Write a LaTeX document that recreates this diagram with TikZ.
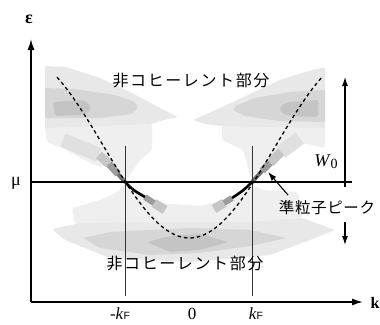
\documentclass[tikz,border=0pt]{standalone}
\usepackage{fontspec}
\setmainfont{Liberation Serif}
\newfontfamily\jpfont[LetterSpace=10]{Noto Sans CJK JP}
\newfontfamily\jpfonttight[LetterSpace=4]{Noto Sans CJK JP}
\newfontfamily\sansF{Liberation Sans}
\usetikzlibrary{arrows.meta}
\definecolor{gOut}{HTML}{E8E8E8}
\definecolor{gLow}{HTML}{EFEFEF}
\definecolor{gMid}{HTML}{D6D6D6}
\definecolor{gDark}{HTML}{C4C4C4}
\definecolor{gBand}{HTML}{E0E0E0}
\definecolor{gQa}{HTML}{C6C6C6}
\definecolor{gQb}{HTML}{9C9C9C}
\definecolor{gQc}{HTML}{6E6E6E}
\tikzset{
  blob/.style={rounded corners=2pt, draw=none},
  axisline/.style={line width=1.5pt, -{Latex[length=11pt,width=7pt]}},
  guide/.style={line width=0.9pt, draw=black!80},
  dashcurve/.style={line width=1.3pt, dash pattern=on 3.5pt off 3pt},
  qp/.style={line cap=butt},
  lbl/.style={font=\fontsize{18}{18}\selectfont, inner sep=0pt},
  klbl/.style={font=\fontsize{17}{17}\selectfont, inner sep=0pt},
  jp/.style={font=\jpfont\fontsize{16}{16}\selectfont, inner sep=0pt},
  jpt/.style={font=\jpfonttight\fontsize{15.5}{15.5}\selectfont, inner sep=0pt},
  wtip/.style={line width=1.1pt, -{Latex[length=9pt,width=6pt]}}
}
\begin{document}
\begin{tikzpicture}[x=1pt,y=-1pt]
\useasboundingbox (0,0) rectangle (380,324);
% ---- top-left blob
\fill[gOut,blob] (45,66) -- (66,67) -- (100,78) -- (130,92) -- (160,108) -- (178,117) -- (160,121) -- (152,124) -- (120,126) -- (45,130) -- cycle;
\fill[gLow,blob] (45,128) -- (152,124) -- (152,150) -- (140,160) -- (128,178) -- (125,182) -- (112,166) -- (96,166) -- (62,148) -- (47,142) -- cycle;
\fill[gMid,blob] (45,88) -- (75,89) -- (115,95) -- (135,102) -- (138,108) -- (132,114) -- (100,118) -- (45,118) -- cycle;
\fill[gDark,blob] (53,102) -- (82,100) -- (90,104) -- (90,112) -- (80,115) -- (55,116) -- cycle;
% ---- top-right blob
\fill[gOut,blob] (325,67) -- (305,72) -- (280,80) -- (250,94) -- (220,108) -- (193,120) -- (205,124) -- (230,127) -- (325,130) -- cycle;
\fill[gLow,blob] (325,128) -- (222,126) -- (222,140) -- (243,150) -- (250,175) -- (252,182) -- (262,165) -- (285,150) -- (297,142) -- (325,148) -- cycle;
\fill[gMid,blob] (325,90) -- (290,92) -- (255,98) -- (235,106) -- (233,110) -- (245,116) -- (280,121) -- (325,122) -- cycle;
\fill[gDark,blob] (318,100) -- (288,102) -- (280,106) -- (281,113) -- (290,116) -- (318,117) -- cycle;
% ---- lower blob
\fill[gLow,blob] (72,208) -- (100,200) -- (118,192) -- (124,184) -- (135,192) -- (160,203) -- (200,206) -- (225,200) -- (245,192) -- (251,184) -- (262,190) -- (298,192) -- (302,220) -- (250,225) -- (150,226) -- (75,224) -- cycle;
\fill[gOut,blob] (52,229) -- (80,223) -- (150,222) -- (250,222) -- (302,218) -- (335,230) -- (310,240) -- (270,255) -- (190,262) -- (110,258) -- (65,240) -- cycle;
\fill[gMid,blob] (83,238) -- (110,232) -- (150,230) -- (190,228) -- (250,230) -- (287,238) -- (250,246) -- (200,253) -- (150,255) -- (100,248) -- cycle;
\fill[gDark,blob] (147,242) -- (170,236) -- (200,234) -- (228,242) -- (200,250) -- (170,252) -- cycle;
% ---- quasi-particle bands (left)
\coordinate (L1) at (63,140); \coordinate (L2) at (99,155); \coordinate (L3) at (109,164);
\coordinate (L4) at (118,174); \coordinate (XL) at (125,182);
\coordinate (L5) at (145,197); \coordinate (L6) at (154,203); \coordinate (L7) at (165,210);
\draw[qp,gBand,line width=14pt] (L1) -- (L2);
\draw[qp,gQa,line width=9pt] (L2) -- (L3);
\draw[qp,gQb,line width=7pt] (L3) -- (L4);
\draw[qp,gQc,line width=4pt] (L4) -- (XL);
\draw[qp,gQa,line width=9pt] (L6) -- (L7);
\draw[qp,gQb,line width=6pt] (L5) -- (L6);
\draw[qp,black,line width=2.6pt] (XL) .. controls (133,190) .. (L5);
% ---- quasi-particle bands (right)
\coordinate (XR) at (252,182); \coordinate (R1) at (262,171); \coordinate (R2) at (270,163);
\coordinate (R3) at (281,152); \coordinate (R4) at (300,138);
\coordinate (R5) at (232,198); \coordinate (R6) at (224,203); \coordinate (R7) at (214,209);
\draw[qp,gBand,line width=14pt] (R3) -- (R4);
\draw[qp,gQa,line width=9pt] (R2) -- (R3);
\draw[qp,gQb,line width=7pt] (R1) -- (R2);
\draw[qp,gQc,line width=4pt] (XR) -- (R1);
\draw[qp,gQa,line width=9pt] (R6) -- (R7);
\draw[qp,gQb,line width=6pt] (R5) -- (R6);
\draw[qp,black,line width=2.6pt] (XR) .. controls (244,190) .. (R5);
% ---- guide lines
\coordinate (kLt) at (125,146); \coordinate (kLb) at (125,296);
\coordinate (kRt) at (252,146); \coordinate (kRb) at (252,296);
\draw[guide] (kLt) -- (kLb);
\draw[guide] (kRt) -- (kRb);
\coordinate (muL) at (31,182); \coordinate (muR) at (352,182);
\draw[line width=1.2pt] (muL) -- (muR);
% ---- bare dispersion
\draw[dashcurve] plot[domain=57:322, samples=90] (\x, {238 - 91.8*(1-cos(1.0474*(\x-189.5)))});
% ---- axes
\coordinate (O) at (31,302); \coordinate (Ytop) at (31,39); \coordinate (Xend) at (363,302);
\draw[axisline] (O) -- (Ytop);
\draw[axisline] (O) -- (Xend);
% ---- W0 arrows
\coordinate (Wtop) at (345,77); \coordinate (Wmid) at (345,187);
\coordinate (Wd1) at (345,222); \coordinate (Wd2) at (345,245);
\draw[wtip] (Wmid) -- (Wtop);
\draw[wtip] (Wd1) -- (Wd2);
% ---- labels
\node[lbl, font=\bfseries\fontsize{18}{18}\selectfont] (eps) at (29,19) {ε};
\node[lbl] (mu) at (16,183) {μ};
\node[lbl, font=\bfseries\fontsize{16}{16}\selectfont] (kax) at (375,303) {k};
\node[klbl] (mkF) at (120,313.5) {-\textit{k}{\sansF\fontsize{10.5}{10.5}\selectfont F}};
\node[klbl] (zero) at (192,313.5) {0};
\node[klbl] (kF) at (256,313.5) {\textit{k}{\sansF\fontsize{10.5}{10.5}\selectfont F}};
\node[lbl] (W0) at (326,162) {\textit{W}\raisebox{-2pt}{\fontsize{14}{14}\selectfont 0}};
\node[jp] (inTop) at (191,81) {非コヒーレント部分};
\node[jp] (inBot) at (185,264) {非コヒーレント部分};
\node[jpt] (qpk) at (327,208) {準粒子ピーク};
\coordinate (qptip) at (268,172);
\coordinate (qptail) at (288,195);
\draw[wtip] (qptail) -- (qptip);
\end{tikzpicture}
\end{document}
